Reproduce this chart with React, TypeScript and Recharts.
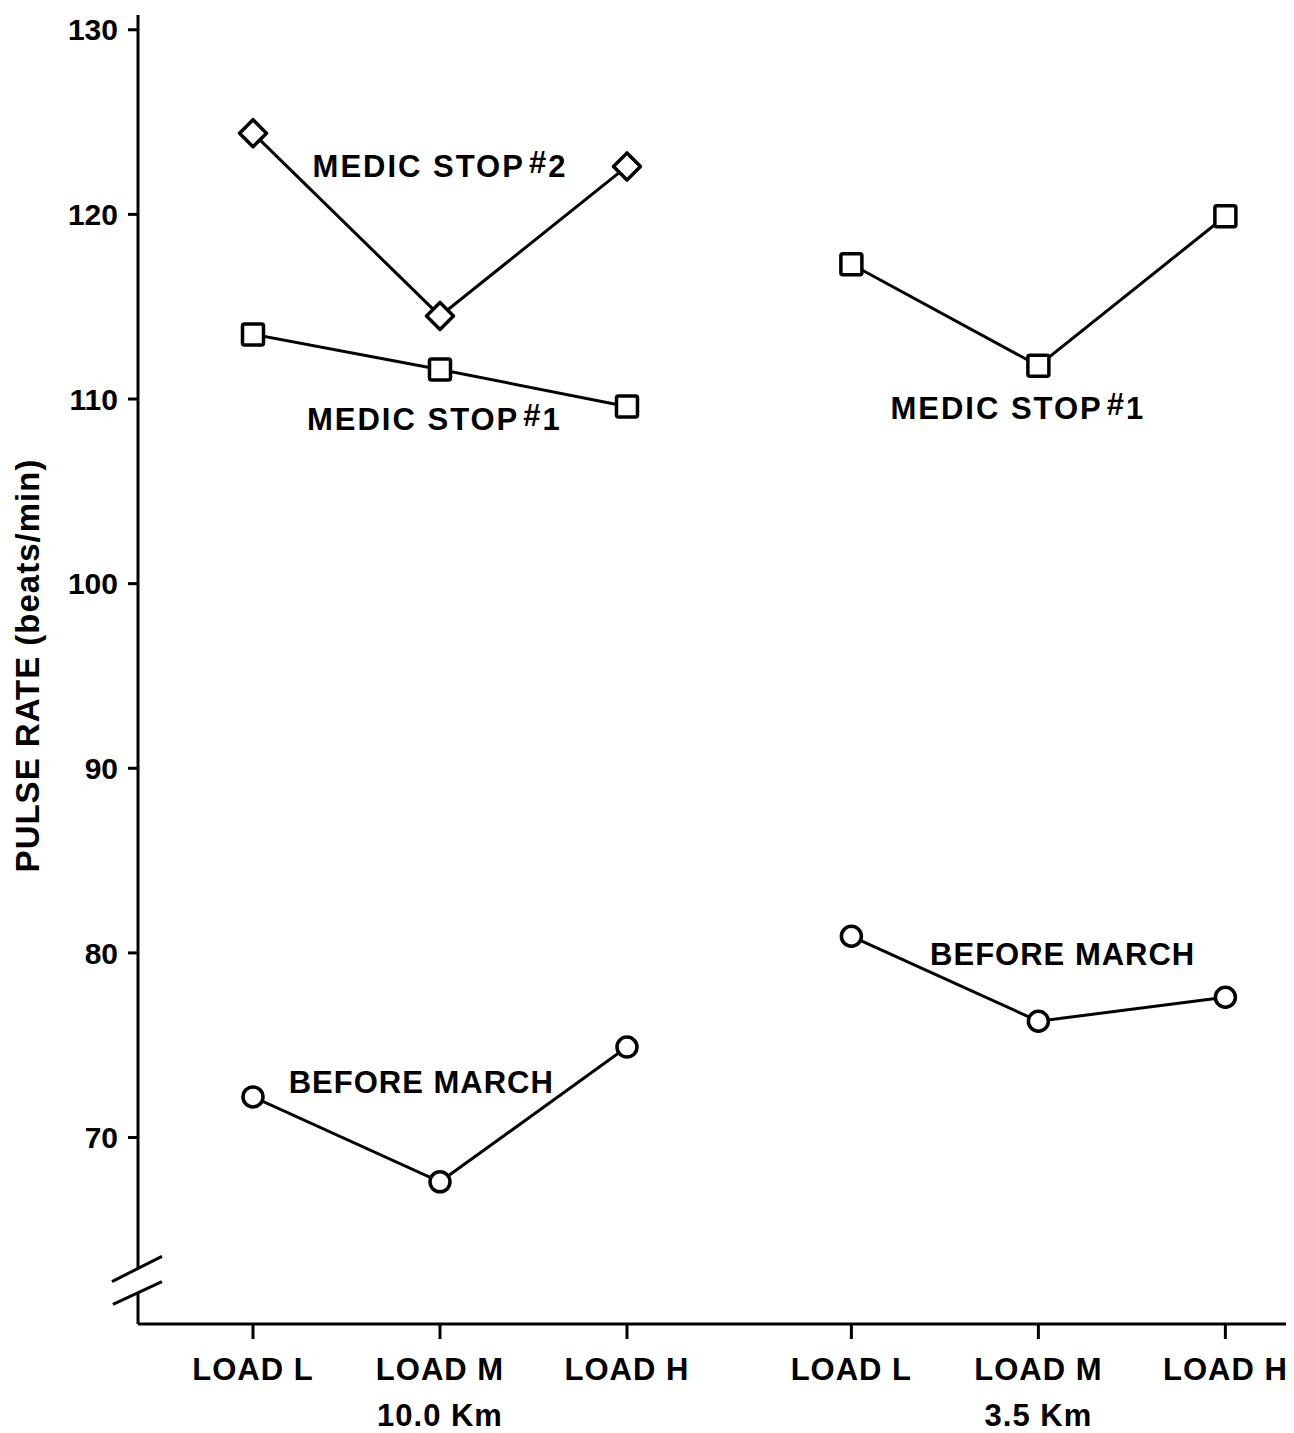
import React from "react"
import { LineChart, Line, XAxis, YAxis, ReferenceLine, ReferenceDot } from "recharts"

const loadLabels = ["LOAD L", "LOAD M", "LOAD H"]
const distanceLabels = ["10.0 Km", "3.5 Km"]
const loadX10 = [1, 2, 3]
const loadX35 = [4.2, 5.2, 6.2]
const yTicks = [70, 80, 90, 100, 110, 120, 130]

const beforeMarch10 = [72.2, 67.6, 74.9]
const medicStop1_10 = [113.5, 111.6, 109.6]
const medicStop2_10 = [124.4, 114.5, 122.6]
const medicStop1_35 = [117.3, 111.8, 119.9]
const beforeMarch35 = [80.9, 76.3, 77.6]

// series captions, anchored in data units
const notes = [
  { x: 2.0, y: 122.6, text: "MEDIC STOP", num: "2" },
  { x: 1.97, y: 108.9, text: "MEDIC STOP", num: "1" },
  { x: 5.09, y: 109.5, text: "MEDIC STOP", num: "1" },
  { x: 1.9, y: 73.0, text: "BEFORE MARCH" },
  { x: 5.33, y: 79.9, text: "BEFORE MARCH" },
]

const FONT = "'Liberation Sans', Arial, sans-serif"
const allX = [...loadX10, ...loadX35]

const toPoints = (xs: number[], ys: number[]) => xs.map((x, i) => ({ x, y: ys[i] }))

function XTick(props: any) {
  const { x, y, payload } = props
  const i = allX.indexOf(payload.value)
  const dist = i % 3 === 1 ? distanceLabels[Math.floor(i / 3)] : null
  return (
    <g fontFamily={FONT} fontWeight="bold" fontSize={31} fill="#000" letterSpacing={1}>
      <text x={x} y={y + 39} textAnchor="middle">{loadLabels[i % 3]}</text>
      {dist && <text x={x} y={y + 85} textAnchor="middle">{dist}</text>}
    </g>
  )
}

const Diamond = (props: any) => {
  const { cx, cy } = props
  if (cx == null || cy == null) return null
  const r = 13.5
  return (
    <path
      d={`M${cx},${cy - r}L${cx + r},${cy}L${cx},${cy + r}L${cx - r},${cy}Z`}
      fill="#fff"
      stroke="#000"
      strokeWidth={3.5}
      strokeLinejoin="round"
    />
  )
}

const Square = (props: any) => {
  const { cx, cy } = props
  if (cx == null || cy == null) return null
  return <rect x={cx - 10.5} y={cy - 10.5} width={21} height={21} rx={2} fill="#fff" stroke="#000" strokeWidth={3.5} />
}

const circleDot = { r: 10, fill: "#fff", stroke: "#000", strokeWidth: 3.5 }

const NoteText = (text: string, num?: string) => (props: any) => {
  const { cx, cy } = props
  return (
    <text
      x={cx}
      y={cy}
      textAnchor="middle"
      dominantBaseline="central"
      fontFamily={FONT}
      fontWeight="bold"
      fontSize={31}
      letterSpacing={num ? 2 : 1}
      fill="#000"
    >
      {text}
      {num && <tspan dx={4} dy={-4}>#</tspan>}
      {num && <tspan dy={4}>{num}</tspan>}
    </text>
  )
}

export default function App() {
  const lineProps = { type: "linear" as const, dataKey: "y", stroke: "#000", strokeWidth: 3, isAnimationActive: false }
  return (
    <div style={{ background: "#fff", width: 1286, height: 1425 }}>
      <LineChart width={1286} height={1425} margin={{ top: 7, right: 0, bottom: 0, left: 0 }}>
        <XAxis
          type="number"
          dataKey="x"
          domain={[0.385, 6.567]}
          ticks={allX}
          allowDataOverflow
          height={109}
          tickSize={15}
          axisLine={{ stroke: "#000", strokeWidth: 3 }}
          tickLine={{ stroke: "#000", strokeWidth: 3 }}
          tick={<XTick />}
        />
        <YAxis
          type="number"
          domain={[59.9, 130.8]}
          ticks={yTicks}
          allowDataOverflow
          width={130}
          tickSize={10}
          tickMargin={10}
          axisLine={false}
          tickLine={{ stroke: "#000", strokeWidth: 3 }}
          tick={{ fill: "#000", fontSize: 30, fontFamily: FONT, fontWeight: "bold" }}
          label={({ viewBox }: any) => {
            const cx = viewBox.x + 19
            const cy = viewBox.y + viewBox.height / 2 - 4
            return (
              <text
                x={cx}
                y={cy}
                transform={`rotate(-90, ${cx}, ${cy})`}
                textAnchor="middle"
                dominantBaseline="central"
                fontFamily={FONT}
                fontWeight="bold"
                fontSize={33}
                letterSpacing={1}
                fill="#000"
              >
                PULSE RATE (beats/min)
              </text>
            )
          }}
        />
        {/* broken y axis */}
        <ReferenceLine segment={[{ x: 0.385, y: 130.8 }, { x: 0.385, y: 62.9 }]} stroke="#000" strokeWidth={3} ifOverflow="visible" />
        <ReferenceLine segment={[{ x: 0.385, y: 61.6 }, { x: 0.385, y: 59.9 }]} stroke="#000" strokeWidth={3} ifOverflow="visible" />
        <ReferenceLine segment={[{ x: 0.246, y: 62.2 }, { x: 0.513, y: 63.56 }]} stroke="#000" strokeWidth={3} ifOverflow="visible" />
        <ReferenceLine segment={[{ x: 0.251, y: 60.96 }, { x: 0.513, y: 62.2 }]} stroke="#000" strokeWidth={3} ifOverflow="visible" />

        <Line {...lineProps} data={toPoints(loadX10, medicStop2_10)} dot={<Diamond />} />
        <Line {...lineProps} data={toPoints(loadX10, medicStop1_10)} dot={<Square />} />
        <Line {...lineProps} data={toPoints(loadX10, beforeMarch10)} dot={circleDot} />
        <Line {...lineProps} data={toPoints(loadX35, medicStop1_35)} dot={<Square />} />
        <Line {...lineProps} data={toPoints(loadX35, beforeMarch35)} dot={circleDot} />

        {notes.map((n, i) => (
          <ReferenceDot key={i} x={n.x} y={n.y} r={0} ifOverflow="visible" shape={NoteText(n.text, n.num)} />
        ))}
      </LineChart>
    </div>
  )
}
